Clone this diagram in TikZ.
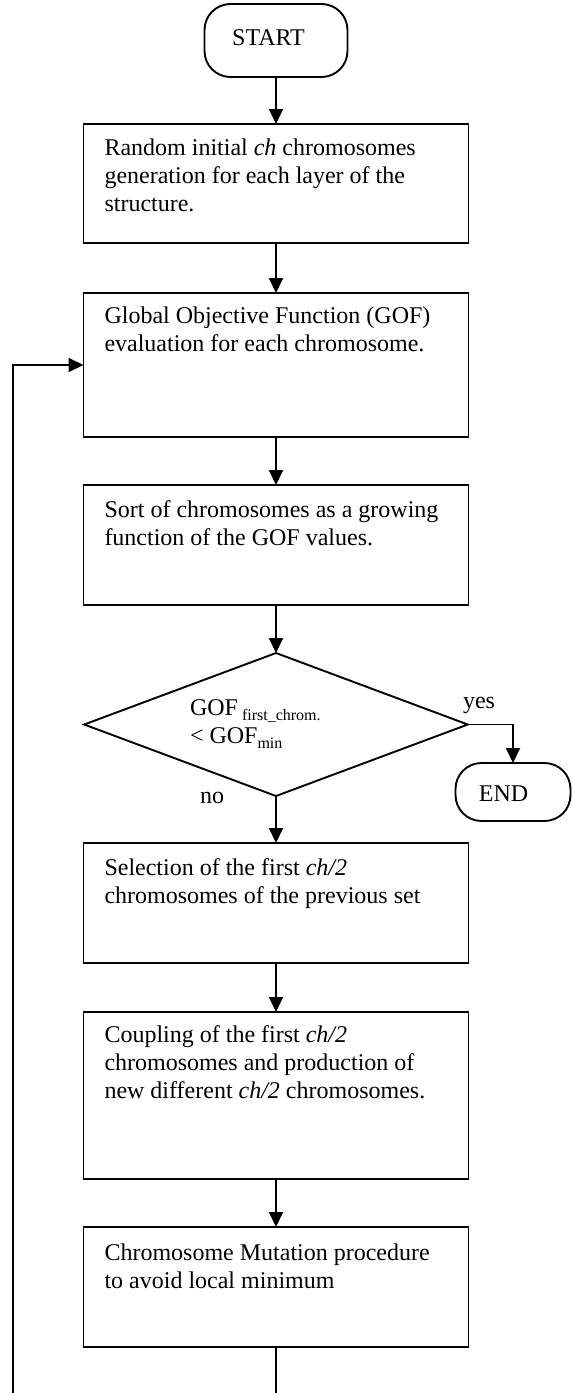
\documentclass[tikz,border=0pt]{standalone}
\usepackage{fontspec}
\setmainfont{Liberation Serif}
\usetikzlibrary{shapes.geometric,arrows.meta}
\begin{document}
\begin{tikzpicture}[x=1pt,y=-1pt,
  every node/.style={inner sep=0pt,outer sep=0pt},
  ln/.style={line width=1.9pt},
  arr/.style={ln,-{Triangle[length=15pt,width=14pt]}},
  stepbox/.style={draw,line width=1.9pt,rectangle,minimum width=385pt},
  term/.style={draw,line width=1.9pt,rectangle,rounded corners=26pt,font=\fontsize{24}{28}\selectfont},
  txt/.style={anchor=base west,font=\fontsize{24}{28}\selectfont}
]
\fill[white] (0,0) rectangle (571,1393);
\useasboundingbox (0,0) rectangle (571,1393);

% terminals
\node[term,minimum width=143pt,minimum height=73pt,text height=16pt,text depth=7pt] (start) at (276,40.5) {START\hspace*{15pt}};
\node[term,minimum width=115pt,minimum height=58pt,text height=18pt,text depth=0pt] (endt) at (513,792) {END\hspace*{19pt}};

% process boxes
\node[stepbox,minimum height=119pt] (b1) at (276,183.5) {};
\node[stepbox,minimum height=144pt] (b2) at (276,365) {};
\node[stepbox,minimum height=120pt] (b3) at (276,545) {};
\node[stepbox,minimum height=120pt] (b4) at (276,903) {};
\node[stepbox,minimum height=167pt] (b5) at (276,1095.5) {};
\node[stepbox,minimum height=120pt] (b6) at (276,1287) {};

% decision
\node[draw,line width=1.9pt,diamond,minimum width=383.5pt,minimum height=143pt] (d) at (276,724.5) {};

% texts
\node[txt] (t1) at (104.5,155) {\parbox[t]{360pt}{\raggedright Random initial \textit{ch} chromosomes\\generation for each layer of the\\structure.}};
\node[txt] (t2) at (104.5,323) {\parbox[t]{360pt}{\raggedright Global Objective Function (GOF)\\evaluation for each chromosome.}};
\node[txt] (t3) at (104.5,517) {\parbox[t]{360pt}{\raggedright Sort of chromosomes as a growing\\function of the GOF values.}};
\node[txt] (t4) at (104.5,875) {\parbox[t]{360pt}{\raggedright Selection of the first \textit{ch/2}\\chromosomes of the previous set}};
\node[txt] (t5) at (104.5,1042) {\parbox[t]{360pt}{\raggedright Coupling of the first \textit{ch/2}\\chromosomes and production of\\new different \textit{ch/2} chromosomes.}};
\node[txt] (t6) at (104.5,1260) {\parbox[t]{360pt}{\raggedright Chromosome Mutation procedure\\to avoid local minimum}};
\node[txt] (dt) at (190,715) {\parbox[t]{200pt}{\raggedright GOF\,\raisebox{-5pt}{\fontsize{16}{16}\selectfont first\_chrom.}\\< GOF\raisebox{-5pt}{\fontsize{16}{16}\selectfont min}}};
\node[txt] (yes) at (463,708) {yes};
\node[txt] (no) at (200,803) {no};

% connectors
\coordinate (lb) at (276,1410);
\coordinate (ll) at (12.7,1410);
\draw[arr] (start) -- (b1);
\draw[arr] (b1) -- (b2);
\draw[arr] (b2) -- (b3);
\draw[arr] (b3) -- (d);
\draw[arr] (d.east) -| (endt.north);
\draw[arr] (d.south) -- (b4.north);
\draw[arr] (b4) -- (b5);
\draw[arr] (b5) -- (b6);
\draw[arr] (b6.south) -- (lb) -- (ll) |- (b2.west);
\end{tikzpicture}
\end{document}
